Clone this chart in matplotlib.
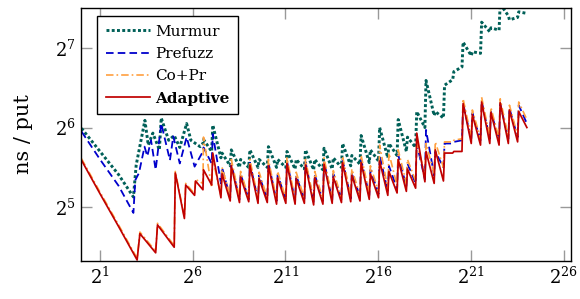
import matplotlib
matplotlib.use("Agg")
import matplotlib.pyplot as plt
from matplotlib.ticker import FixedLocator, FixedFormatter, NullLocator
import numpy as np

# ---- data (log2 of ns/put) ----
# early region, one list per series
adaptive_x0 = [0, 1, 2, 3, 3.15, 4.0, 4.1, 5.0, 5.06, 5.55, 5.62, 6.1, 6.15, 6.55]
adaptive_y0 = [5.59, 5.17, 4.76, 4.34, 4.67, 4.43, 4.78, 4.50, 5.43, 4.86, 5.28, 5.15, 5.33, 5.22]
copr_x0 = adaptive_x0
copr_y0 = [5.61, 5.19, 4.78, 4.36, 4.69, 4.45, 4.80, 4.52, 5.45, 4.88, 5.30, 5.17, 5.35, 5.30]
prefuzz_x0 = [0, 1, 2, 2.8, 2.9, 3.1, 3.4, 3.55, 3.75, 4.0, 4.3, 4.77, 4.95, 5.3, 5.67, 6.1, 6.55]
prefuzz_y0 = [5.95, 5.60, 5.27, 4.93, 5.34, 5.43, 5.76, 5.64, 5.84, 5.47, 6.05, 5.59, 5.89, 5.55, 5.88, 5.51, 5.70]
murmur_x0 = [0, 1, 2, 2.8, 2.95, 3.42, 3.6, 3.85, 4.2, 4.3, 4.7, 5.0, 5.3, 5.67, 5.9, 6.4, 6.55]
murmur_y0 = [5.99, 5.70, 5.41, 5.13, 5.53, 6.09, 5.78, 5.93, 5.72, 6.12, 5.84, 5.90, 5.75, 6.05, 5.84, 5.76, 5.80]

# sawtooth region: one tooth per half octave starting at 2^6.55
tooth_start = 6.55 + 0.5 * np.arange(35)

adaptive_peak = [5.47, 5.68, 5.42, 5.52, 5.38, 5.53, 5.36, 5.52, 5.37, 5.55, 5.36, 5.53,
                 5.37, 5.54, 5.38, 5.56, 5.40, 5.56, 5.42, 5.58, 5.45, 5.60, 5.48, 5.93,
                 5.70, 5.72, 5.68, 5.70, 6.30, 6.16, 6.32, 6.19, 6.31, 6.22, 6.20]
adaptive_low = [5.28, 5.12, 5.08, 5.06, 5.07, 5.05, 5.06, 5.04, 5.05, 5.04, 5.05, 5.03,
                5.04, 5.05, 5.06, 5.07, 5.08, 5.10, 5.12, 5.15, 5.18, 5.20, 5.24, 5.32,
                5.30, 5.33, 5.68, 5.70, 5.80, 5.78, 5.80, 5.78, 5.80, 5.82, 6.00]

copr_peak = [5.88, 5.60, 5.50, 5.60, 5.45, 5.60, 5.44, 5.60, 5.45, 5.62, 5.44, 5.60,
             5.45, 5.62, 5.46, 5.64, 5.48, 5.65, 5.52, 5.78, 5.68, 5.72, 5.60, 5.82,
             5.80, 5.82, 5.82, 5.84, 6.36, 6.22, 6.38, 6.25, 6.36, 6.28, 6.32]
copr_low = [5.25, 5.15, 5.14, 5.12, 5.12, 5.11, 5.12, 5.10, 5.11, 5.10, 5.11, 5.09,
            5.10, 5.11, 5.12, 5.13, 5.15, 5.17, 5.20, 5.23, 5.27, 5.30, 5.33, 5.40,
            5.42, 5.50, 5.82, 5.86, 5.88, 5.86, 5.88, 5.86, 5.88, 5.90, 6.10]

prefuzz_peak = [5.75, 5.92, 5.50, 5.55, 5.42, 5.56, 5.40, 5.56, 5.41, 5.58, 5.40, 5.57,
                5.41, 5.58, 5.42, 5.60, 5.44, 5.60, 5.47, 5.65, 5.52, 5.66, 5.55, 5.80,
                5.97, 5.70, 5.80, 5.82, 6.30, 6.18, 6.33, 6.20, 6.30, 6.24, 6.28]
prefuzz_low = [5.55, 5.30, 5.12, 5.10, 5.10, 5.09, 5.10, 5.08, 5.09, 5.08, 5.09, 5.07,
               5.08, 5.09, 5.10, 5.11, 5.13, 5.15, 5.17, 5.20, 5.23, 5.26, 5.30, 5.35,
               5.40, 5.50, 5.80, 5.84, 5.85, 5.84, 5.86, 5.84, 5.86, 5.88, 6.05]

murmur_peak = [5.85, 6.03, 5.68, 5.72, 5.60, 5.72, 5.60, 5.76, 5.60, 5.70, 5.60, 5.72,
               5.60, 5.74, 5.62, 5.80, 5.65, 5.90, 5.72, 6.00, 5.80, 6.10, 5.88, 6.20,
               6.59, 6.20, 6.53, 6.70, 7.07, 6.95, 7.32, 7.25, 7.55, 7.35, 7.45]
murmur_low = [5.70, 5.62, 5.52, 5.50, 5.50, 5.50, 5.50, 5.50, 5.50, 5.48, 5.48, 5.47,
              5.47, 5.48, 5.50, 5.52, 5.54, 5.56, 5.58, 5.62, 5.65, 5.70, 5.75, 6.00,
              6.15, 6.12, 6.60, 6.76, 6.90, 6.93, 7.20, 7.22, 7.40, 7.38, 7.43]

labels = ["Murmur", "Prefuzz", "Co+Pr", "Adaptive"]
x_exps = [1, 6, 11, 16, 21, 26]
y_exps = [5, 6, 7]


def series(x0, y0, peak, low):
    xs = np.column_stack([tooth_start + 0.03, tooth_start + 0.47]).ravel()
    ys = np.column_stack([peak, low]).ravel()
    x = np.concatenate([x0, xs])
    y = np.concatenate([y0, ys])
    return 2.0 ** x, 2.0 ** y


def main():
    plt.rcParams["font.family"] = "DejaVu Serif"
    plt.rcParams["mathtext.fontset"] = "dejavuserif"

    fig = plt.figure(figsize=(5.8, 2.99), dpi=100)
    ax = fig.add_axes([0.1405, 0.127, 0.844, 0.846])

    data = [
        series(murmur_x0, murmur_y0, murmur_peak, murmur_low),
        series(prefuzz_x0, prefuzz_y0, prefuzz_peak, prefuzz_low),
        series(copr_x0, copr_y0, copr_peak, copr_low),
        series(adaptive_x0, adaptive_y0, adaptive_peak, adaptive_low),
    ]
    styles = [
        dict(color="#006058", lw=2.1, ls=(0, (1.0, 0.8))),
        dict(color="#0000cc", lw=1.3, ls=(0, (4.2, 2.3))),
        dict(color="#ffa040", lw=1.2, ls=(0, (4.5, 1.8, 1, 1.8))),
        dict(color="#c00000", lw=1.25, ls="-"),
    ]
    for (x, y), st, lab in zip(data, styles, labels):
        ax.plot(x, y, label=lab, **st)

    ax.set_xscale("log", base=2)
    ax.set_yscale("log", base=2)
    ax.set_xlim(2 ** 0, 2 ** 26.4)
    ax.set_ylim(2 ** 4.327, 2 ** 7.497)

    ax.xaxis.set_major_locator(FixedLocator([2.0 ** k for k in x_exps]))
    ax.xaxis.set_major_formatter(FixedFormatter([rf"$2^{{{k}}}$" for k in x_exps]))
    ax.yaxis.set_major_locator(FixedLocator([2.0 ** k for k in y_exps]))
    ax.yaxis.set_major_formatter(FixedFormatter([rf"$2^{{{k}}}$" for k in y_exps]))
    ax.xaxis.set_minor_locator(NullLocator())
    ax.yaxis.set_minor_locator(NullLocator())
    ax.tick_params(which="major", direction="in", length=8, width=1.0,
                   color="#999999", top=True, right=True, labelsize=13, pad=4)
    for sp in ax.spines.values():
        sp.set_linewidth(1.0)

    ax.set_ylabel("ns / put", fontsize=15, labelpad=16)

    leg = ax.legend(loc="upper left", bbox_to_anchor=(0.032, 0.968), borderaxespad=0,
                    fontsize=11, fancybox=False, framealpha=1, edgecolor="black",
                    handlelength=2.9, handletextpad=0.35, labelspacing=0.55,
                    borderpad=0.55)
    leg.get_frame().set_linewidth(1.0)
    leg.get_texts()[-1].set_fontweight("bold")

    fig.savefig("out.png", dpi=100)


if __name__ == "__main__":
    main()
